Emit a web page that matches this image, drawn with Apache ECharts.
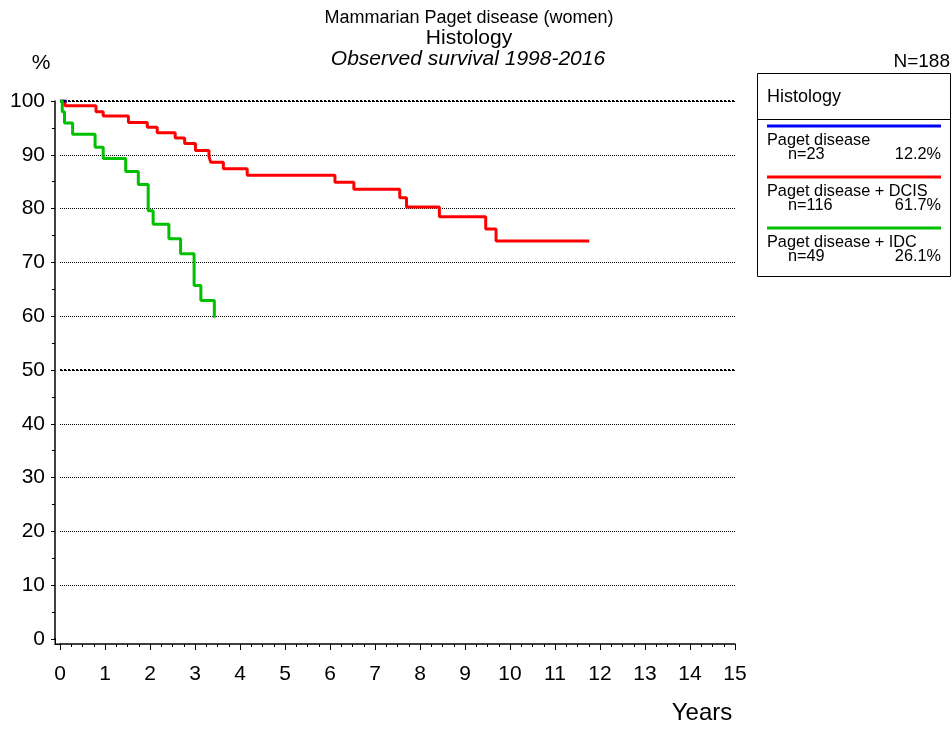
<!DOCTYPE html>
<html>
<head>
<meta charset="utf-8">
<script src="https://cdn.jsdelivr.net/npm/echarts@6/dist/echarts.min.js"></script>
<style>
  html, body { margin: 0; padding: 0; background: #fff; }
  #chart { width: 952px; height: 729px; }
</style>
</head>
<body>
<div id="chart"></div>
<script>
// Kaplan-Meier observed survival by histology, [years, survival %]
const pagetOnly = [[0, 100], [0.15, 100]];
const pagetDcis = [
  [0, 100], [0.11, 99.1], [0.80, 98.0], [0.96, 97.2], [1.52, 96.0], [1.94, 95.1],
  [2.16, 94.1], [2.56, 93.1], [2.77, 92.1], [3.01, 90.8], [3.31, 89.7], [3.35, 88.6],
  [3.63, 87.4], [4.16, 86.2], [6.11, 84.9], [6.53, 83.6], [7.55, 82.0], [7.70, 80.3],
  [8.43, 78.5], [9.46, 76.2], [9.69, 74.0], [11.76, 74.0]
];
const pagetIdc = [
  [0, 100], [0.05, 98.0], [0.10, 95.9], [0.28, 93.8], [0.78, 91.4], [0.96, 89.3],
  [1.46, 86.9], [1.74, 84.5], [1.96, 79.6], [2.07, 77.1], [2.42, 74.4], [2.68, 71.6],
  [2.98, 65.7], [3.13, 62.9], [3.43, 59.7]
];

const groupNames = ['Paget disease', 'Paget disease + DCIS', 'Paget disease + IDC'];
const groupCounts = ['n=23', 'n=116', 'n=49'];
const groupShares = ['12.2%', '61.7%', '26.1%'];
const groupColors = ['#0000ff', '#ff0000', '#00c000'];
const totalLabel = 'N=188';
const boldLevels = [100, 50];

const titleLines = ['Mammarian Paget disease (women)', 'Histology', 'Observed survival 1998-2016'];
const legendTitle = 'Histology';

const FONT = '"Liberation Sans", Arial, sans-serif';

// legend box drawn as graphic elements
function legendGraphics() {
  const g = [];
  const bx = 757, by = 73, bw = 193, bh = 203;
  g.push({ type: 'rect', shape: { x: bx + 0.5, y: by + 0.5, width: bw, height: bh },
    style: { fill: '#fff', stroke: '#000', lineWidth: 1 } });
  g.push({ type: 'line', shape: { x1: bx, y1: 119.5, x2: bx + bw, y2: 119.5 },
    style: { stroke: '#000', lineWidth: 1 } });
  g.push({ type: 'text', x: 767, y: 97, style: { text: legendTitle, font: '18px ' + FONT,
    fill: '#000', textAlign: 'left', textVerticalAlign: 'middle' } });
  const tops = [126, 177, 228];
  groupNames.forEach((name, i) => {
    const t = tops[i];
    g.push({ type: 'line', shape: { x1: 767, y1: t, x2: 941, y2: t },
      style: { stroke: groupColors[i], lineWidth: 3 } });
    g.push({ type: 'text', x: 767, y: t + 15, style: { text: name, font: '16.3px ' + FONT,
      fill: '#000', textAlign: 'left', textVerticalAlign: 'middle' } });
    g.push({ type: 'text', x: 788, y: t + 29, style: { text: groupCounts[i], font: '16.3px ' + FONT,
      fill: '#000', textAlign: 'left', textVerticalAlign: 'middle' } });
    g.push({ type: 'text', x: 941, y: t + 29, style: { text: groupShares[i], font: '16.3px ' + FONT,
      fill: '#000', textAlign: 'right', textVerticalAlign: 'middle' } });
  });
  return g;
}

const chart = echarts.init(document.getElementById('chart'), null, { renderer: 'canvas' });

const option = {
  backgroundColor: '#fff',
  animation: false,
  textStyle: { fontFamily: FONT },
  grid: { left: 60, right: 217, top: 101, bottom: 90, containLabel: false },
  xAxis: {
    type: 'value', min: 0, max: 15, interval: 1, offset: 5,
    axisLine: { show: true, onZero: false, lineStyle: { color: '#000', width: 1.5 } },
    axisTick: { show: true, length: 6, lineStyle: { color: '#000', width: 1 } },
    minorTick: { show: true, splitNumber: 4, length: 3, lineStyle: { color: '#000', width: 1 } },
    axisLabel: { color: '#000', fontSize: 21, margin: 20, fontFamily: FONT },
    splitLine: { show: false }
  },
  yAxis: {
    type: 'value', min: 0, max: 100, interval: 10, offset: 5,
    axisLine: { show: true, onZero: false, lineStyle: { color: '#000', width: 1.5 } },
    axisTick: { show: true, length: 4, lineStyle: { color: '#000', width: 1 } },
    minorTick: { show: true, splitNumber: 2, length: 3, lineStyle: { color: '#000', width: 1 } },
    axisLabel: { color: '#000', fontSize: 21, margin: 10, fontFamily: FONT },
    splitLine: { show: true, showMinLine: false,
      lineStyle: { color: '#000', width: 1, type: [1, 1] } }
  },
  graphic: [
    { type: 'text', x: 469, y: 18, style: { text: titleLines[0], font: '18px ' + FONT,
      fill: '#000', textAlign: 'center', textVerticalAlign: 'middle' } },
    { type: 'text', x: 469, y: 38, style: { text: titleLines[1], font: '21px ' + FONT,
      fill: '#000', textAlign: 'center', textVerticalAlign: 'middle' } },
    { type: 'text', x: 468, y: 59, style: { text: titleLines[2], font: 'italic 21px ' + FONT,
      fill: '#000', textAlign: 'center', textVerticalAlign: 'middle' } },
    { type: 'text', x: 41, y: 63, style: { text: '%', font: '21px ' + FONT,
      fill: '#000', textAlign: 'center', textVerticalAlign: 'middle' } },
    { type: 'text', x: 950, y: 62, style: { text: totalLabel, font: '19px ' + FONT,
      fill: '#000', textAlign: 'right', textVerticalAlign: 'middle' } },
    { type: 'text', x: 702, y: 713, style: { text: 'Years', font: '24px ' + FONT,
      fill: '#000', textAlign: 'center', textVerticalAlign: 'middle' } },
    // closes the corner between the two offset axis lines
    { type: 'polyline', shape: { points: [[55.25, 638], [55.25, 644.25], [61, 644.25]] },
      style: { stroke: '#000', lineWidth: 1.5, fill: null } },
    ...legendGraphics()
  ],
  series: [
    {
      name: groupNames[1], type: 'line', step: 'end', data: pagetDcis, showSymbol: false,
      lineStyle: { color: groupColors[1], width: 3 }, z: 3, silent: true,
      markLine: {
        silent: true, symbol: 'none', label: { show: false },
        lineStyle: { color: '#000', width: 2, type: [2, 2] },
        data: boldLevels.map(v => ({ yAxis: v }))
      }
    },
    {
      name: groupNames[0], type: 'line', step: 'end', data: pagetOnly, showSymbol: false,
      lineStyle: { color: groupColors[0], width: 3 }, z: 4, silent: true
    },
    {
      name: groupNames[2], type: 'line', step: 'end', data: pagetIdc, showSymbol: false,
      lineStyle: { color: groupColors[2], width: 3 }, z: 5, silent: true
    }
  ]
};

chart.setOption(option);
</script>
</body>
</html>
